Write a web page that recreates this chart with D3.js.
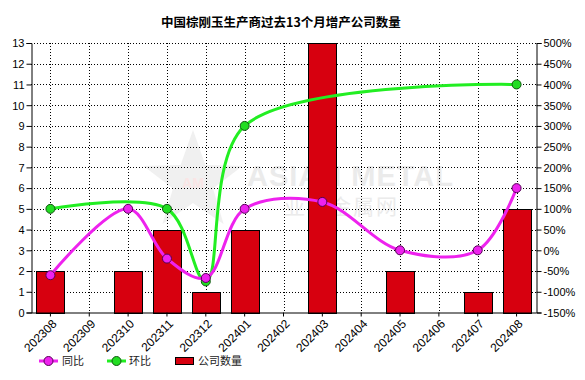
<!DOCTYPE html>
<html><head><meta charset="utf-8">
<script src="https://cdn.jsdelivr.net/npm/d3@7"></script>
<style>
html,body{margin:0;padding:0;background:#fff;}
svg{display:block;font-family:"Liberation Sans",Arial,sans-serif;}
</style></head>
<body><svg id="c" width="585" height="380"></svg>
<script>
const title = "中国棕刚玉生产商过去13个月增产公司数量";
const months = ["202308","202309","202310","202311","202312","202401","202402","202403","202404","202405","202406","202407","202408"];
const companyCount = [2,0,2,4,1,4,0,13,0,2,0,1,5];
const yoy = [-60,null,100,-20,-66.7,100,null,116.7,null,0,null,0,150];
const mom = [100,null,null,100,-75,300,null,null,null,null,null,null,400];
const leftTicks = [0,1,2,3,4,5,6,7,8,9,10,11,12,13];
const rightTicks = [-150,-100,-50,0,50,100,150,200,250,300,350,400,450,500];
const legendLabels = ["同比","环比","公司数量"];

const svg = d3.select("#c");
const L = 31, R = 536, T = 43, B = 312.5;
const x = d3.scaleBand().domain(months).range([L, R]).paddingInner(0.28).paddingOuter(0.14);
const cx = m => x(m) + x.bandwidth()/2;
const yL = d3.scaleLinear().domain([0,13]).range([B, T]);
const yR = d3.scaleLinear().domain([-150,500]).range([B, T]);

// watermark
const wm = svg.append("g").attr("opacity",0.5);
const starPts = d3.range(10).map(i => {
  const r = i%2===0 ? 52 : 21, a = -Math.PI/2 + i*Math.PI/5;
  return [193 + r*Math.cos(a), 182 + r*Math.sin(a)];
});
wm.append("path").attr("d", d3.line()(starPts)+"Z").attr("fill","#e2e2e2");
wm.append("text").attr("x",193).attr("y",188).attr("text-anchor","middle").attr("font-size",14).attr("font-weight","bold").attr("fill","#f6cccc").text("AM");
wm.append("text").attr("x",247).attr("y",186).attr("font-size",29).attr("font-weight","bold").attr("fill","#d8d8d8").attr("letter-spacing",1).text("ASIAN METAL");
wm.append("text").attr("x",284).attr("y",214).attr("font-size",21).attr("font-family","Noto Sans CJK SC").attr("fill","#d8d8d8").attr("letter-spacing",2).text("亚洲金属网");

// grid
const grid = svg.append("g").attr("stroke","#000").attr("stroke-width",1).attr("stroke-dasharray","1,2").attr("shape-rendering","crispEdges");
leftTicks.filter(v=>v>0).forEach(v => grid.append("line").attr("x1",L).attr("x2",R).attr("y1",Math.round(yL(v))+0.5).attr("y2",Math.round(yL(v))+0.5));
months.forEach(m => grid.append("line").attr("x1",Math.round(cx(m))+0.5).attr("x2",Math.round(cx(m))+0.5).attr("y1",T).attr("y2",B));

// bars
svg.append("g").selectAll("rect").data(months).join("rect")
  .attr("x", m => Math.round(x(m))+0.5)
  .attr("y", (m,i) => Math.round(yL(companyCount[i]))+0.5)
  .attr("width", Math.round(x.bandwidth()))
  .attr("height", (m,i) => Math.max(0, Math.round(yL(0)) - Math.round(yL(companyCount[i]))))
  .attr("fill","#d7000f").attr("stroke","#000").attr("stroke-width",1)
  .style("display",(m,i)=>companyCount[i]>0?null:"none");

// lines
function series(vals, color, stroke, fill){
  const pts = months.map((m,i)=>vals[i]==null?null:[cx(m), yR(vals[i])]).filter(p=>p);
  svg.append("path").attr("d", d3.line().curve(d3.curveCatmullRom.alpha(0.5))(pts))
    .attr("fill","none").attr("stroke",color).attr("stroke-width",3);
  svg.append("g").selectAll("circle").data(pts).join("circle")
    .attr("cx",p=>p[0]).attr("cy",p=>p[1]).attr("r",4.5)
    .attr("fill",fill).attr("stroke",stroke).attr("stroke-width",1);
}
series(mom, "#22ee22", "#115511", "#22dd22");
series(yoy, "#ee22ee", "#550055", "#ee22ee");

// axes
const axL = svg.append("g").attr("transform",`translate(${L+0.5},0)`)
  .call(d3.axisLeft(yL).tickValues(leftTicks).tickSize(5).tickPadding(2).tickFormat(d3.format("d")));
const axR = svg.append("g").attr("transform",`translate(${R+0.5},0)`)
  .call(d3.axisRight(yR).tickValues(rightTicks).tickSize(5).tickPadding(2).tickFormat(d=>d+"%"));
const axB = svg.append("g").attr("transform",`translate(0,${B})`)
  .call(d3.axisBottom(x).tickSize(4).tickSizeOuter(0));
[axL,axR,axB].forEach(a=>{
  a.select(".domain").attr("stroke","#000");
  a.selectAll(".tick line").attr("stroke","#000");
  a.selectAll("text").attr("font-size",11).attr("fill","#000").attr("font-family","Liberation Sans, Arial, sans-serif");
});
axL.selectAll(".tick text").attr("dy","0.35em");
axR.selectAll(".tick text").attr("dy","0.35em");
axB.selectAll(".tick text").attr("text-anchor","end").attr("x",0).attr("y",0).attr("dy","0.35em")
  .attr("font-size",12).attr("transform","translate(4,9) rotate(-45)");

// title
svg.append("text").attr("x",281).attr("y",23).attr("dy","0.35em").attr("text-anchor","middle")
  .attr("font-family","Noto Sans CJK SC").attr("font-weight","bold").attr("font-size",12.5).attr("fill","#000").text(title);

// legend
const lg = svg.append("g").attr("font-family","Noto Sans CJK SC").attr("font-size",11).attr("fill","#222");
const ly = 361;
[[39,"#ee22ee","#550055","#ee22ee",62],[107,"#22ee22","#115511","#22dd22",129]].forEach((d,i)=>{
  lg.append("line").attr("x1",d[0]).attr("x2",d[0]+19).attr("y1",ly).attr("y2",ly).attr("stroke",d[1]).attr("stroke-width",3);
  lg.append("circle").attr("cx",d[0]+9.5).attr("cy",ly).attr("r",4.5).attr("fill",d[3]).attr("stroke",d[2]);
  lg.append("text").attr("x",d[4]).attr("y",ly).attr("dy","0.35em").text(legendLabels[i]);
});
lg.append("rect").attr("x",175.5).attr("y",357.5).attr("width",18).attr("height",7).attr("fill","#d7000f").attr("stroke","#000");
lg.append("text").attr("x",198).attr("y",ly).attr("dy","0.35em").text(legendLabels[2]);
</script></body></html>
